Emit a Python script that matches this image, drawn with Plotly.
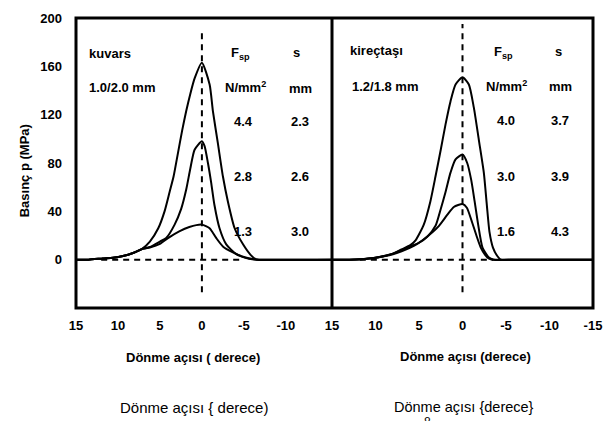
import plotly.graph_objects as go

# ---------------- data ----------------
# Left panel: kuvars 1.0/2.0 mm
kv_x_44 = [15, 13.5, 11.8, 10.6, 9.4, 8.2, 7.2, 6.2, 5.2, 4.45, 3.85, 3.37, 2.86, 2.35, 1.87, 1.39, 0.87, 0,
           -0.92, -1.31, -1.91, -2.5, -3.1, -3.9, -4.9, -5.8, -6.4, -8, -15.5]
kv_y_44 = [0, 0, 1, 1.6, 3, 5.5, 8.6, 15, 26, 40, 56, 69, 88, 107, 123, 137, 150, 163,
           145, 123, 96, 69, 48, 26, 12.7, 4, 0.5, 0, 0]
kv_x_28 = [15, 13.5, 11.8, 10.6, 9.4, 8.2, 7.2, 6.2, 5.0, 4.25, 3.25, 2.47, 1.87, 1.39, 0.87, 0,
           -0.32, -0.72, -1.1, -1.5, -2.1, -2.9, -4.1, -5.2, -6.0, -8, -15.5]
kv_y_28 = [0, 0, 1, 1.6, 3, 5.5, 8.6, 10.5, 15, 18, 29, 42, 58, 75, 91, 98,
           94, 80, 64, 45, 26, 12.7, 4.6, 1.5, 0.3, 0, 0]
kv_x_13 = [15, 13.5, 11.8, 10.6, 9.4, 8.2, 7.2, 6.2, 5.0, 3.9, 2.7, 1.5, 0,
           -0.92, -1.7, -2.5, -3.7, -4.9, -5.7, -6.5, -15.5]
kv_y_13 = [0, 0, 1, 1.6, 3, 5.5, 8.6, 10, 13, 18.5, 23.5, 27, 29,
           26, 18, 11, 6, 2.4, 1, 0, 0]

# Right panel: kireçtaşı 1.2/1.8 mm
kr_x_40 = [15, 13, 11.7, 10, 9, 8, 7, 6, 5.4, 4.45, 3.7, 3.1, 2.5, 1.95, 1.38, 0.8, 0,
           -0.73, -1.3, -1.88, -2.45, -2.8, -3.1, -3.5, -4.0, -4.4, -6, -15]
kr_y_40 = [0, 0, 0.3, 1.5, 3, 5, 8.5, 12, 16, 29, 48, 69, 91, 112, 131, 145, 151,
           145, 126, 99, 72, 45, 23, 10, 3, 0, 0, 0]
kr_x_30 = [15, 13, 11.7, 10, 9, 8, 7, 6, 5.0, 4.05, 3.1, 2.5, 1.95, 1.38, 0.8, 0,
           -0.54, -1.0, -1.4, -1.8, -2.3, -3.0, -3.6, -6, -15]
kr_y_30 = [0, 0, 0.3, 1.5, 3, 5, 8, 11, 14, 19, 28, 42, 56, 72, 83, 87,
           80, 66, 48, 29, 10, 2, 0, 0, 0]
kr_x_16 = [15, 13, 11.7, 10, 9, 8, 7, 6, 5.2, 3.9, 2.7, 1.76, 1.0, 0,
           -0.5, -1.1, -1.6, -2.1, -2.6, -3.0, -3.4, -6, -15]
kr_y_16 = [0, 0, 0.3, 1.5, 2.8, 4.5, 7, 10, 13, 20, 28, 37, 43.6, 46,
           43, 31, 20, 10, 4, 1, 0, 0, 0]

left_ticks = [15, 10, 5, 0, -5, -10]
right_ticks = [15, 10, 5, 0, -5, -10, -15]
y_ticks = [0, 40, 80, 120, 160, 200]

left_vline_y = [-27, 189]
right_vline_y = [-27, 195]
left_hdash_x = [12, -5]
right_hdash_x = [11.8, -3.5]

left_table = [("4.4", "2.3"), ("2.8", "2.6"), ("1.3", "3.0")]
right_table = [("4.0", "3.7"), ("3.0", "3.9"), ("1.6", "4.3")]

# ---------------- figure ----------------
W, H = 614, 421
L, R, T, B = 76, 593, 11, 308
split = (332 - L) / (R - L)

FONT = "Liberation Sans, Arial, sans-serif"

fig = go.Figure()
line_style = dict(color="black", width=2, shape="spline", smoothing=0.6)
for xs, ys in [(kv_x_44, kv_y_44), (kv_x_28, kv_y_28), (kv_x_13, kv_y_13)]:
    fig.add_trace(go.Scatter(x=xs, y=ys, mode="lines", line=line_style,
                             xaxis="x", yaxis="y", showlegend=False, hoverinfo="skip"))
for xs, ys in [(kr_x_40, kr_y_40), (kr_x_30, kr_y_30), (kr_x_16, kr_y_16)]:
    fig.add_trace(go.Scatter(x=xs, y=ys, mode="lines", line=line_style,
                             xaxis="x2", yaxis="y", showlegend=False, hoverinfo="skip"))

tickfont = dict(family=FONT, size=13, color="black", weight="bold")
fig.update_layout(
    width=W, height=H, autosize=False,
    margin=dict(l=L, r=W - R, t=T, b=H - B, pad=0),
    paper_bgcolor="white", plot_bgcolor="white",
    xaxis=dict(domain=[0, split], range=[15, -15.5], tickvals=left_ticks,
               ticktext=[str(v) for v in left_ticks],
               showgrid=False, zeroline=False, showline=False, ticks="",
               tickfont=tickfont, ticklabelstandoff=8, anchor="y"),
    xaxis2=dict(domain=[split, 1], range=[15, -15], tickvals=right_ticks,
                ticktext=[str(v) for v in right_ticks],
                showgrid=False, zeroline=False, showline=False, ticks="",
                tickfont=tickfont, ticklabelstandoff=8, anchor="y"),
    yaxis=dict(range=[-40, 200], tickvals=y_ticks, showgrid=False, zeroline=False,
               showline=False, ticks="", tickfont=tickfont, ticklabelstandoff=13,
               anchor="x"),
)

shapes = []
dash = dict(color="black", width=2, dash="6px,5px")
shapes.append(dict(type="line", xref="x", yref="y", x0=0, x1=0,
                   y0=left_vline_y[0], y1=left_vline_y[1], line=dash, layer="below"))
shapes.append(dict(type="line", xref="x2", yref="y", x0=0, x1=0,
                   y0=right_vline_y[0], y1=right_vline_y[1], line=dash, layer="below"))
shapes.append(dict(type="line", xref="x", yref="y", x0=left_hdash_x[0], x1=left_hdash_x[1],
                   y0=0, y1=0, line=dash, layer="below"))
shapes.append(dict(type="line", xref="x2", yref="y", x0=right_hdash_x[0], x1=right_hdash_x[1],
                   y0=0, y1=0, line=dash, layer="below"))
# frame
shapes.append(dict(type="rect", xref="paper", yref="paper", x0=0, x1=1, y0=0, y1=1,
                   line=dict(color="black", width=3)))
shapes.append(dict(type="line", xref="paper", yref="paper", x0=split, x1=split, y0=0, y1=1,
                   line=dict(color="black", width=3)))
fig.update_layout(shapes=shapes)


def px(xp):
    return (xp - L) / (R - L)


def py(yp):
    return (B - yp) / (B - T)


anns = []


def txt(s, x, y, size=13, bold=True, xanchor="center", angle=0, yanchor="middle"):
    anns.append(dict(text=s, x=px(x), y=py(y), xref="paper", yref="paper",
                     showarrow=False, xanchor=xanchor, yanchor=yanchor, textangle=angle,
                     font=dict(family=FONT, size=size, color="black",
                               weight="bold" if bold else "normal")))


# left panel labels
txt("kuvars", 87, 47, xanchor="left")
txt("1.0/2.0 mm", 87, 82, xanchor="left")
txt("F<sub>sp</sub>", 240, 47)
txt("N/mm<sup>2</sup>", 245, 82)
txt("s", 296, 46)
txt("mm", 300, 83)
for (f, s), yy in zip(left_table, [117, 173, 230]):
    txt(f, 243, yy)
    txt(s, 300, yy)

# right panel labels
txt("kireçtaşı", 348, 44, xanchor="left")
txt("1.2/1.8 mm", 350, 81, xanchor="left")
txt("F<sub>sp</sub>", 503, 46)
txt("N/mm<sup>2</sup>", 506, 81)
txt("s", 558, 45)
txt("mm", 560, 81)
for (f, s), yy in zip(right_table, [116, 173, 230]):
    txt(f, 506, yy)
    txt(s, 560, yy)

# axis titles
txt("Basınç p (MPa)", 24, 168, size=13, angle=-90)
txt("Dönme açısı ( derece)", 193, 359, size=13)
txt("Dönme açısı (derece)", 465, 358, size=13)
txt("Dönme açısı { derece)", 194, 410, size=15, bold=False)
txt("Dönme açısı {derece}", 464, 409, size=14.5, bold=False)
txt("8", 427, 416, size=12, bold=False, yanchor="top")

fig.update_layout(annotations=anns)
fig.write_html("out.html", config={"displayModeBar": False, "staticPlot": True},
               post_script="document.body.style.margin='0px';")
